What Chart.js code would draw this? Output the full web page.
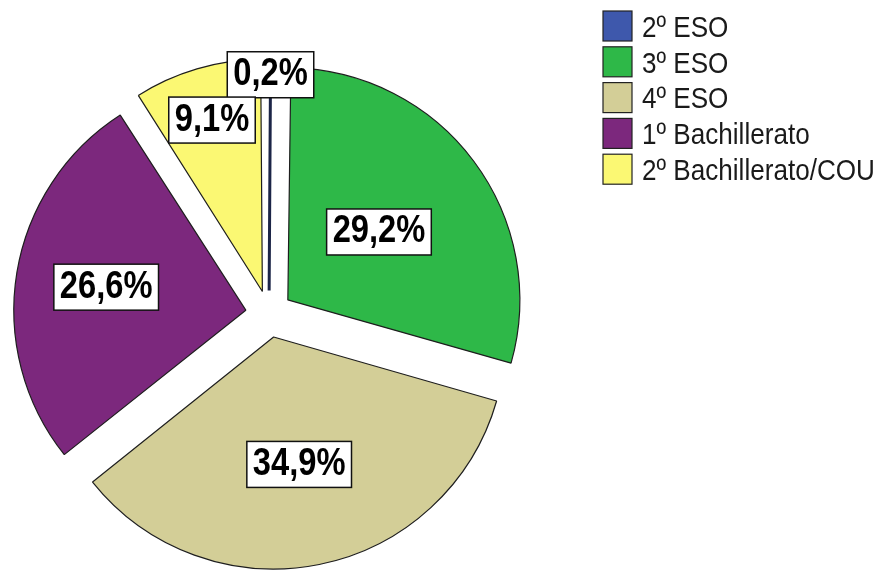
<!DOCTYPE html>
<html>
<head>
<meta charset="utf-8">
<script src="https://cdn.jsdelivr.net/npm/chart.js@4/dist/chart.umd.min.js"></script>
<style>
html, body { margin: 0; padding: 0; background: #fff; }
#wrap { width: 886px; height: 570px; }
</style>
</head>
<body>
<div id="wrap"><canvas id="curso_chart"></canvas></div>
<script>
// Data

const cursos = ['2º ESO', '3º ESO', '4º ESO', '1º Bachillerato', '2º Bachillerato/COU'];
const porcentajes = [0.2, 29.2, 34.9, 26.6, 9.1];
const colores = ['#3E58AC', '#2EB848', '#D3CE97', '#7C287D', '#FBF873'];
const bordes = ['#1c2547', '#1e1e1e', '#1e1e1e', '#1e1e1e', '#1e1e1e'];

// Geometry

const pie_radius = 232;
const slice_offset = 94; // Chart.js moves an arc by offset / 4
const label_font = '"Liberation Sans", Arial, sans-serif';

// Chart.js also grows the radius of moved arcs, keep every slice the same size
const keep_radius = {
    id: 'keep_radius',
    afterDatasetUpdate(chart, args) {
        args.meta.data.forEach((arc) => {
            const fix = 1 - Math.sin(Math.min(Math.PI, arc.circumference));
            arc.outerRadius = pie_radius - (slice_offset / 4) * fix;
        });
    }
};

// Percent boxes inside the slices
const value_boxes = {
    id: 'value_boxes',
    afterDatasetsDraw(chart, args, opts) {
        const ctx = chart.ctx;
        const meta = chart.getDatasetMeta(0);
        meta.data.forEach((arc, i) => {
            const mid = (arc.startAngle + arc.endAngle) / 2;
            const r = slice_offset / 4 + opts.distance[i] * pie_radius;
            const x = arc.x + Math.cos(mid) * r;
            const y = arc.y + Math.sin(mid) * r;
            const text = porcentajes[i].toFixed(1).replace('.', ',') + '%';
            ctx.save();
            ctx.font = 'bold 38px ' + label_font;
            const w = ctx.measureText(text).width * 0.86 + 12;
            const h = 46;
            ctx.fillStyle = '#fff';
            ctx.fillRect(x - w / 2, y - h / 2, w, h);
            ctx.strokeStyle = '#111';
            ctx.lineWidth = 1.5;
            ctx.strokeRect(x - w / 2, y - h / 2, w, h);
            ctx.translate(x, y);
            ctx.scale(0.86, 1);
            ctx.fillStyle = '#000';
            ctx.textAlign = 'center';
            ctx.textBaseline = 'alphabetic';
            ctx.fillText(text, 0, 10.5);
            ctx.restore();
        });
    }
};

// Legend at the top right
const side_legend = {
    id: 'side_legend',
    afterDraw(chart, args, opts) {
        const ctx = chart.ctx;
        const ds = chart.data.datasets[0];
        chart.data.labels.forEach((label, i) => {
            const top = opts.top + i * opts.step;
            ctx.save();
            ctx.fillStyle = ds.backgroundColor[i];
            ctx.fillRect(opts.left, top, 29, 30);
            ctx.strokeStyle = '#222';
            ctx.lineWidth = 1.2;
            ctx.strokeRect(opts.left, top, 29, 30);
            ctx.translate(opts.left + 39, top + 15 + 10.7);
            ctx.scale(0.87, 1);
            ctx.font = '30px ' + label_font;
            ctx.fillStyle = '#1a1a1a';
            ctx.textBaseline = 'alphabetic';
            ctx.fillText(label, 0, 0);
            ctx.restore();
        });
    }
};

const curso_chart = new Chart(document.getElementById('curso_chart'), {
    type: 'pie',
    data: {
        labels: cursos,
        datasets: [{
            data: porcentajes,
            backgroundColor: colores,
            borderColor: bordes,
            borderWidth: [3, 1.2, 1.2, 1.2, 1.2],
            offset: slice_offset
        }]
    },
    options: {
        responsive: true,
        maintainAspectRatio: false,
        animation: false,
        events: [],
        radius: pie_radius,
        layout: {
            padding: { left: 0, top: 58, right: 348, bottom: 0 }
        },
        plugins: {
            legend: { display: false },
            tooltip: { enabled: false },
            value_boxes: { distance: [0.93, 0.49, 0.56, 0.61, 0.77] },
            side_legend: { left: 603, top: 11, step: 35.8 }
        }
    },
    plugins: [keep_radius, value_boxes, side_legend]
});
</script>
</body>
</html>
